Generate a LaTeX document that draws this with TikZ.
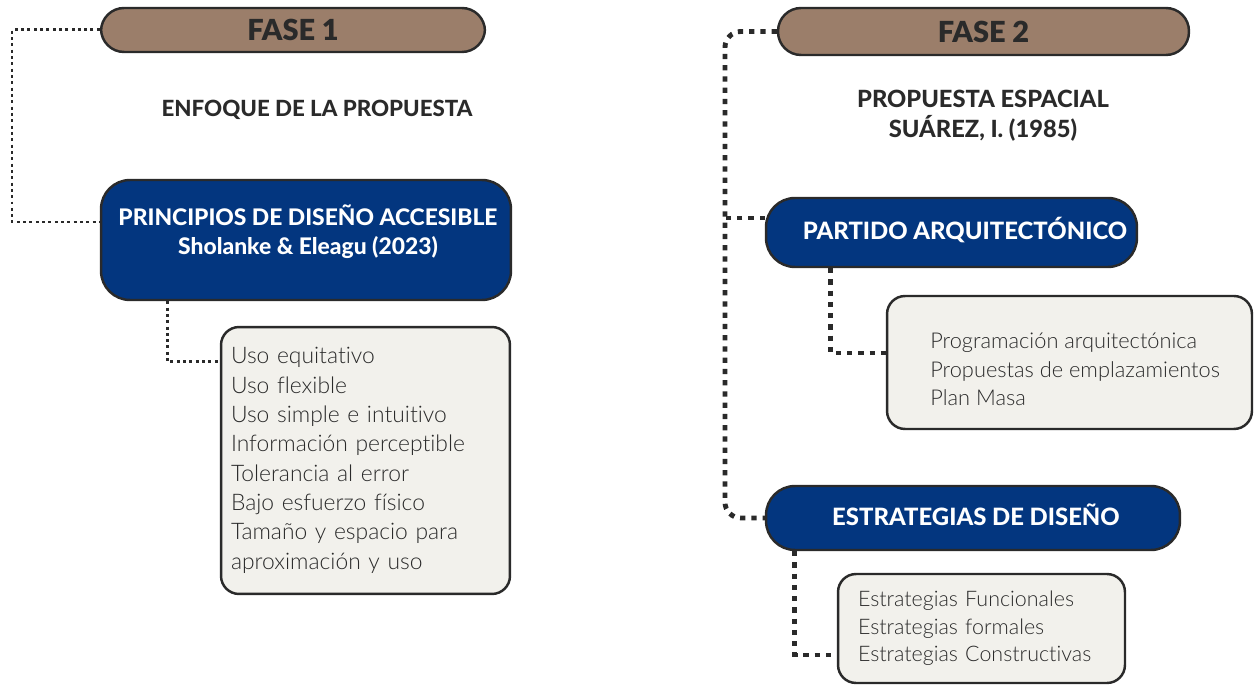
\documentclass[tikz,border=0pt]{standalone}
\usepackage{fontspec}
\setmainfont{Lato}
\newfontfamily\lightfont[Ligatures=NoCommon]{Lato Light}
\newfontfamily\heavyfont[Ligatures=NoCommon]{Lato Heavy}
\newfontfamily\blackfont{Lato Black}
\usetikzlibrary{positioning}
\definecolor{fasebrown}{HTML}{9B7E6A}
\definecolor{navyblue}{HTML}{03367F}
\definecolor{paleboard}{HTML}{F2F1EC}
\definecolor{inkgrey}{HTML}{2A2A2A}

\begin{document}
\begin{tikzpicture}[
    x=0.02cm, y=-0.02cm,
    fasebox/.style={draw=inkgrey, line width=1.4pt, fill=fasebrown, rounded corners=0.46cm,
        text=inkgrey, font=\blackfont\fontsize{16.5}{20}\selectfont},
    navybox/.style={draw=inkgrey, line width=1.4pt, fill=navyblue, rounded corners=0.58cm},
    navytxt/.style={text=white, align=center, font=\heavyfont\fontsize{13}{16.5}\selectfont},
    headtxt/.style={text=inkgrey, align=center, font=\heavyfont\fontsize{13}{17}\selectfont},
    listbox/.style={draw=inkgrey, line width=1.4pt, fill=paleboard, rounded corners=0.36cm,
        align=left, text=inkgrey, inner ysep=0pt},
    listtxt/.style={align=left, text=inkgrey, inner sep=0pt, anchor=north west},
    dotline/.style={draw=inkgrey, line width=1.7pt, dash pattern=on 1.7pt off 1.9pt},
    dotthick/.style={draw=inkgrey, line width=2.8pt, dash pattern=on 3pt off 3.4pt}
]
\useasboundingbox (0,0) rectangle (1254,685);

% fase 1
\node[fasebox, minimum width=7.68cm, minimum height=0.88cm] (fase1) at (293,30) {FASE 1};
\node[headtxt, font=\heavyfont\fontsize{12.7}{17}\selectfont] (enfoque) at (317,110) {ENFOQUE DE LA PROPUESTA};
\node[navybox, minimum width=8.2cm, minimum height=2.4cm] (princ) at (306,240) {};
\node[navytxt] (princtxt) at (308,232) {PRINCIPIOS DE DISEÑO ACCESIBLE\\Sholanke \& Eleagu (2023)};
\node[listbox, text width=5.38cm, inner xsep=0.2cm, minimum height=5.34cm,
      font=\lightfont\fontsize{13}{16.7}\selectfont] (usos) at (365.5,460.5)
    {Uso equitativo\\Uso flexible\\Uso simple e intuitivo\\Información perceptible\\
     Tolerancia al error\\Bajo esfuerzo físico\\Tamaño y espacio para\\aproximación y uso};

% fase 2
\node[fasebox, minimum width=8.22cm, minimum height=0.94cm] (fase2) at (983.5,31.5) {FASE 2};
\node[headtxt, font=\heavyfont\fontsize{13.5}{17}\selectfont] (propuesta) at (983,116) {PROPUESTA ESPACIAL\\SUÁREZ, I. (1985)};
\node[navybox, minimum width=7.42cm, minimum height=1.38cm] (partido) at (951.5,232.5) {};
\node[navytxt, font=\heavyfont\fontsize{13.6}{16}\selectfont] (partidotxt) at (965,230) {PARTIDO ARQUITECTÓNICO};
\node[listbox, minimum width=7.3cm, minimum height=2.66cm] (programa) at (1069.5,362.5) {};
\node[listtxt, font=\lightfont\fontsize{12.4}{16}\selectfont] (programatxt) at (930,333)
    {Programación arquitectónica\\Propuestas de emplazamientos\\Plan Masa};
\node[navybox, minimum width=8.28cm, minimum height=1.28cm] (estrat) at (973,518) {};
\node[navytxt, font=\heavyfont\fontsize{13.6}{16}\selectfont] (estrattxt) at (976,515) {ESTRATEGIAS DE DISEÑO};
\node[listbox, text width=4.94cm, inner xsep=0.4cm, minimum height=2.18cm,
      font=\lightfont\fontsize{12.2}{15.6}\selectfont] (tipos) at (981.5,628.5)
    {Estrategias Funcionales\\Estrategias formales\\Estrategias Constructivas};

% connectors fase 1
\coordinate (trunkL) at (12,0);
\coordinate (pjoin) at ([yshift=0.36cm]princ.west);
\draw[dotline] (fase1.west) -| (trunkL |- pjoin) -- (pjoin);
\draw[dotline] ([xshift=1.36cm]princ.south west) |- ([yshift=-0.72cm]usos.north west);

% connectors fase 2
\coordinate (trunkR) at (725,0);
\coordinate (pbr) at ([yshift=0.29cm]partido.west);
\draw[dotthick, rounded corners=9pt] (fase2.west) -| (trunkR |- estrat.west) -- (estrat.west);
\draw[dotthick] (pbr) -- (pbr -| trunkR);
\draw[dotthick] ([xshift=1.32cm]partido.south west) |- ([yshift=0.19cm]programa.west);
\draw[dotthick] ([xshift=0.6cm]estrat.south west) |- ([yshift=-0.53cm]tipos.west);

\end{tikzpicture}
\end{document}
